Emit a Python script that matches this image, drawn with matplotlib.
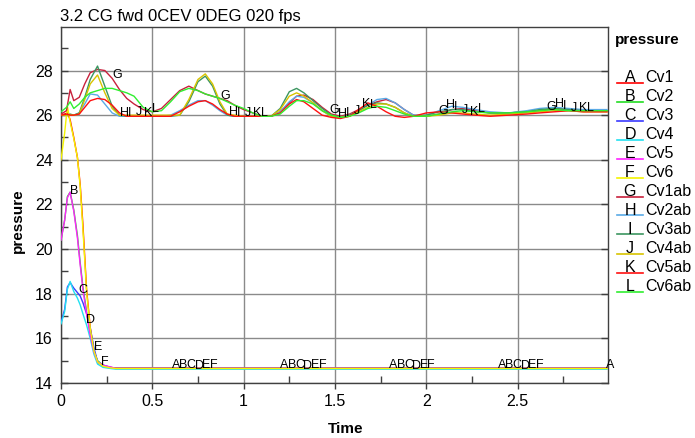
#!/usr/bin/env python3

# pressure history chart, Cv1..Cv6 and the ab cavities, letters drawn along each curve

import numpy as np
import matplotlib
matplotlib.use("Agg")
import matplotlib.pyplot as plt
from matplotlib.lines import Line2D

plt.rcParams['font.family'] = ['Liberation Sans', 'DejaVu Sans']

W, H = 695, 438

# lower group (Cv1..Cv6), time in s
t_v = [0, 0.02, 0.035, 0.05, 0.07, 0.09, 0.105, 0.12, 0.14, 0.16, 0.18, 0.2,
       0.23, 0.27, 0.3, 0.4, 2.99]
cv1 = [26.0, 26.05, 26.1, 25.8, 25.0, 24.1, 22.9, 21.1, 18.2, 16.5, 15.45,
       14.95, 14.75, 14.7, 14.67, 14.67, 14.67]
cv2 = [20.4, 21.3, 22.35, 22.55, 21.75, 20.6, 19.4, 18.3, 17.2, 16.2, 15.45,
       15.0, 14.8, 14.7, 14.66, 14.66, 14.66]
cv3 = [16.7, 17.3, 18.3, 18.5, 18.25, 18.05, 17.9, 17.6, 17.1, 16.45, 15.6,
       14.95, 14.8, 14.7, 14.65, 14.65, 14.65]
cv4 = [16.65, 17.2, 18.2, 18.55, 18.1, 17.8, 17.5, 17.1, 16.6, 16.0, 15.3,
       14.85, 14.7, 14.65, 14.62, 14.62, 14.62]
cv5 = [20.4, 21.3, 22.3, 22.55, 21.7, 20.5, 19.3, 18.2, 17.1, 16.15, 15.4,
       14.95, 14.8, 14.72, 14.66, 14.66, 14.66]
cv6 = [24.0, 25.2, 26.4, 25.7, 24.95, 24.1, 22.8, 20.9, 18.1, 16.45, 15.45,
       14.95, 14.75, 14.68, 14.65, 14.65, 14.65]

# upper group (Cv1ab..Cv6ab)
t_ab = [0, 0.03, 0.05, 0.07, 0.1, 0.13, 0.16, 0.2, 0.24, 0.28,
        0.32, 0.36, 0.4, 0.45, 0.5, 0.55, 0.6, 0.65, 0.7, 0.75,
        0.79, 0.83, 0.87, 0.91, 0.95, 1.0, 1.05, 1.1, 1.15, 1.2,
        1.25, 1.29, 1.33, 1.38, 1.43, 1.48, 1.53, 1.58, 1.63, 1.68,
        1.73, 1.78, 1.83, 1.88, 1.93, 2.0, 2.07, 2.14, 2.2, 2.27,
        2.35, 2.45, 2.55, 2.62, 2.7, 2.78, 2.86, 2.94, 2.99]
cv1ab = [26.05, 26.2, 27.15, 26.65, 26.8, 27.4, 27.9, 28.05, 28.0, 27.65,
         27.15, 26.75, 26.5, 26.25, 26.15, 26.3, 26.7, 27.1, 27.3, 27.1,
         26.95, 26.85, 26.75, 26.65, 26.45, 26.25, 26.1, 25.95, 25.95, 26.15,
         26.55, 26.85, 26.9, 26.7, 26.35, 26.05, 25.95, 26.05, 26.25, 26.45,
         26.6, 26.7, 26.55, 26.25, 26.0, 25.95, 26.05, 26.25, 26.3, 26.2,
         26.1, 26.1, 26.15, 26.2, 26.3, 26.25, 26.2, 26.2, 26.2]
cv2ab = [26.0, 26.0, 26.0, 26.0, 26.1, 26.5, 26.95, 26.9, 26.5, 26.1,
         25.95, 25.95, 25.95, 25.95, 25.95, 25.95, 26.0, 26.2, 26.45, 26.65,
         26.65, 26.45, 26.2, 26.0, 25.95, 25.95, 25.95, 25.95, 25.95, 26.15,
         26.6, 26.85, 26.8, 26.55, 26.2, 25.95, 25.9, 26.0, 26.2, 26.45,
         26.7, 26.75, 26.55, 26.25, 26.0, 26.0, 26.2, 26.4, 26.35, 26.25,
         26.15, 26.1, 26.2, 26.3, 26.35, 26.3, 26.25, 26.25, 26.25]
cv3ab = [26.0, 26.0, 26.05, 26.0, 26.1, 26.8, 27.6, 28.2, 27.3, 26.4,
         26.0, 25.95, 25.95, 25.95, 25.95, 25.95, 25.95, 26.0, 26.6, 27.5,
         27.75, 27.3, 26.5, 26.0, 25.95, 25.95, 25.95, 25.95, 25.95, 26.3,
         27.05, 27.2, 27.0, 26.65, 26.3, 26.0, 25.9, 26.0, 26.2, 26.45,
         26.55, 26.5, 26.35, 26.1, 25.95, 26.0, 26.15, 26.25, 26.25, 26.15,
         26.1, 26.1, 26.15, 26.25, 26.3, 26.25, 26.2, 26.2, 26.2]
cv4ab = [26.0, 26.0, 26.0, 26.0, 26.05, 26.7, 27.4, 27.8, 27.0, 26.3,
         26.0, 26.0, 26.0, 26.0, 26.0, 26.0, 26.0, 26.0, 26.7, 27.6,
         27.85, 27.4, 26.6, 26.05, 26.0, 25.95, 25.95, 25.95, 25.95, 26.25,
         26.85, 27.0, 26.85, 26.55, 26.2, 25.95, 25.9, 25.95, 26.15, 26.35,
         26.5, 26.5, 26.35, 26.1, 25.95, 25.95, 26.0, 26.1, 26.1, 26.05,
         26.0, 26.05, 26.1, 26.15, 26.2, 26.2, 26.15, 26.15, 26.15]
cv5ab = [26.0, 26.05, 26.0, 26.0, 26.05, 26.35, 26.65, 26.75, 26.7, 26.45,
         26.1, 25.95, 25.95, 25.95, 25.95, 25.95, 25.95, 26.15, 26.4, 26.6,
         26.65, 26.5, 26.25, 26.05, 25.95, 25.95, 25.95, 25.95, 25.95, 26.1,
         26.5, 26.7, 26.6, 26.3, 26.0, 25.9, 25.85, 25.95, 26.25, 26.55,
         26.4, 26.15, 25.95, 25.9, 25.95, 26.1, 26.15, 26.1, 26.05, 26.0,
         25.95, 26.0, 26.05, 26.1, 26.15, 26.2, 26.15, 26.15, 26.15]
cv6ab = [26.15, 26.35, 26.6, 26.3, 26.5, 26.8, 27.0, 27.1, 27.2, 27.2,
         27.1, 27.0, 26.85, 26.35, 26.15, 26.2, 26.6, 27.05, 27.2, 27.1,
         26.95, 26.85, 26.75, 26.6, 26.45, 26.3, 26.1, 25.95, 25.95, 26.05,
         26.4, 26.65, 26.65, 26.5, 26.2, 26.0, 25.9, 25.95, 26.1, 26.3,
         26.4, 26.35, 26.2, 26.05, 25.95, 25.95, 26.05, 26.15, 26.2, 26.15,
         26.1, 26.1, 26.15, 26.2, 26.25, 26.2, 26.2, 26.2, 26.2]

names = ["Cv1", "Cv2", "Cv3", "Cv4", "Cv5", "Cv6",
         "Cv1ab", "Cv2ab", "Cv3ab", "Cv4ab", "Cv5ab", "Cv6ab"]
letters = list("ABCDEFGHIJKL")
colors = ["#ff0000", "#22dd22", "#3a3aff", "#22e0f0", "#ff22ff", "#f4f400",
          "#c8203c", "#5aaae6", "#3c9660", "#d8c400", "#ff1010", "#30ee30"]

series = [(t_v, cv1), (t_v, cv2), (t_v, cv3), (t_v, cv4), (t_v, cv5), (t_v, cv6),
          (t_ab, cv1ab), (t_ab, cv2ab), (t_ab, cv3ab), (t_ab, cv4ab),
          (t_ab, cv5ab), (t_ab, cv6ab)]

fig = plt.figure(figsize=(W / 100, H / 100), dpi=100)
ax = fig.add_axes([61 / W, 1 - 383 / H, (608 - 61) / W, (383 - 27) / H])

for i, (t, v) in enumerate(series):
    ax.plot(t, v, color=colors[i], lw=1.0, zorder=3)

# letters along the curves, every ~0.6 s, staggered per curve
period = 0.595
for i, (t, v) in enumerate(series):
    if i < 6:
        starts = [0.01 + 0.042 * i + period * k for k in range(6)]
    else:
        starts = [0.28 + 0.044 * (i - 6) + period * k for k in range(5)]
    for ts in starts:
        if ts < 0.03 or ts > 3.0:
            continue
        yv = np.interp(ts, t, v)
        ax.text(ts, yv, letters[i], fontsize=9, color='black', ha='left',
                va='baseline', zorder=5, clip_on=False)

ax.set_xlim(0, 2.995)
ax.set_ylim(14, 29.95)
ax.set_xticks([0, 0.5, 1, 1.5, 2, 2.5])
ax.set_xticklabels(["0", "0.5", "1", "1.5", "2", "2.5"])
ax.set_xticks(np.arange(0.25, 3.0, 0.5), minor=True)
ax.set_yticks([14, 16, 18, 20, 22, 24, 26, 28])
ax.set_yticks([15, 17, 19, 21, 23, 25, 27, 29], minor=True)
ax.tick_params(axis='x', which='major', direction='out', length=4, width=1,
               labelsize=11.5, pad=4, color='#404040')
ax.tick_params(axis='x', which='minor', direction='in', length=5, width=1,
               color='#404040')
ax.tick_params(axis='y', which='major', direction='in', length=5, width=1,
               labelsize=11.5, pad=6, right=True, color='#404040')
ax.tick_params(axis='y', which='minor', direction='in', length=5, width=1,
               color='#404040')
ax.grid(which='major', color='#8a8a8a', lw=1.0, zorder=1)
for s in ax.spines.values():
    s.set_color('#404040')
    s.set_linewidth(1.0)

def fx(px):
    return px / W

def fy(py):
    return 1 - py / H

fig.text(fx(60), fy(16), "3.2 CG fwd 0CEV 0DEG 020 fps", fontsize=12,
         ha='left', va='center')
fig.text(fx(346), fy(429), "Time", fontsize=11, fontweight='bold',
         ha='center', va='center')
fig.text(fx(18), fy(221), "pressure", fontsize=11, fontweight='bold',
         ha='center', va='center', rotation=90)

# legend box on the right
fig.text(fx(615), fy(40), "pressure", fontsize=11, fontweight='bold',
         ha='left', va='center')
for i in range(12):
    yc = 77.5 + 19 * i
    fig.add_artist(Line2D([fx(617), fx(643)], [fy(yc + 5), fy(yc + 5)],
                          color=colors[i], lw=1.2, transform=fig.transFigure))
    fig.text(fx(630), fy(yc), letters[i], fontsize=11.5, ha='center', va='center')
    fig.text(fx(645), fy(yc), names[i], fontsize=11.5, ha='left', va='center')

fig.savefig("out.png", dpi=100)
